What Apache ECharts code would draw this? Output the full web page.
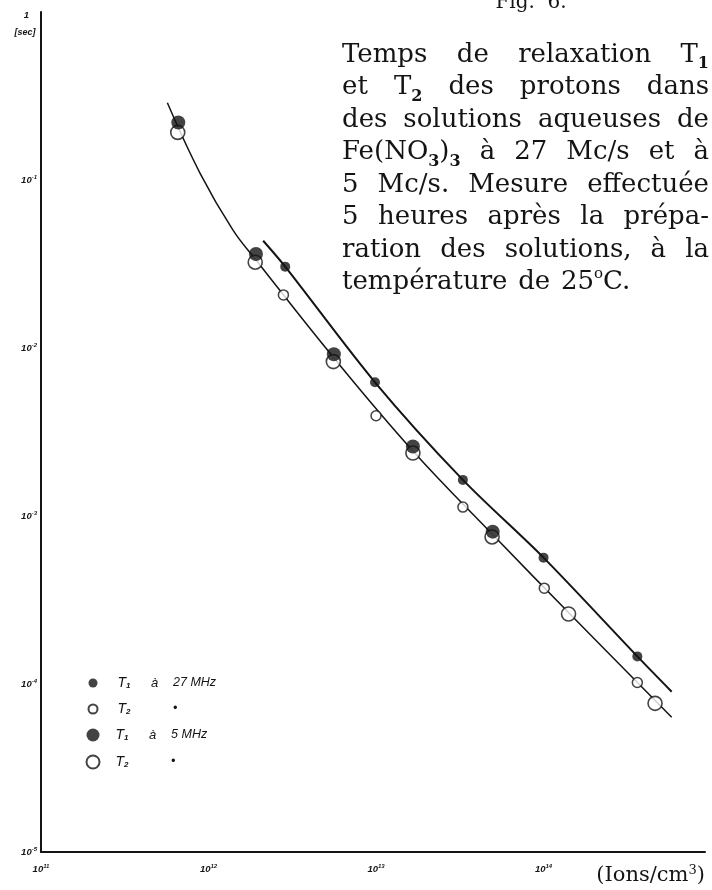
<!DOCTYPE html>
<html><head><meta charset="utf-8">
<script src="https://cdn.jsdelivr.net/npm/echarts/dist/echarts.min.js"></script>
<style>html,body{margin:0;padding:0;background:#fff}#c{width:712px;height:890px}</style>
</head><body><div id="c"></div>
<script>
// ---- data ----
const t1_27_x = [2.87e12, 9.86e12, 3.3e13, 1.0e14, 3.63e14];
const t1_27_y = [0.0305, 0.00625, 0.00164, 5.65e-4, 1.46e-4];
const t2_27_x = [2.8e12, 1.0e13, 3.3e13, 1.01e14, 3.63e14];
const t2_27_y = [0.0207, 0.00395, 0.00113, 3.72e-4, 1.02e-4];
const t1_5_x = [6.6e11, 1.92e12, 5.6e12, 1.66e13, 4.97e13];
const t1_5_y = [0.220, 0.0363, 0.00918, 0.00259, 8.07e-4];
const t2_5_x = [6.55e11, 1.9e12, 5.56e12, 1.66e13, 4.93e13, 1.41e14, 4.63e14];
const t2_5_y = [0.192, 0.0324, 0.0083, 0.00237, 7.5e-4, 2.61e-4, 7.67e-5];
const upperCurve_x = [2.12e12, 2.87e12, 9.86e12, 3.3e13, 1.0e14, 3.63e14, 5.82e14];
const upperCurve_y = [0.0435, 0.0305, 0.00625, 0.00164, 5.65e-4, 1.46e-4, 9.0e-5];
const lowerCurve_x = [5.68e11, 8.89e11, 1.40e12, 1.92e12, 5.61e12, 1.66e13, 5.0e13, 1.40e14, 5.82e14];
const lowerCurve_y = [0.288, 0.110, 0.0503, 0.0334, 0.00871, 0.00244, 7.71e-4, 2.68e-4, 6.34e-5];
const xTickValues = [1e11, 1e12, 1e13, 1e14];
const xTickExps = ['11', '12', '13', '14'];
const yTickValues = [1e-5, 1e-4, 1e-3, 1e-2, 1e-1, 1];
const yTickExps = ['-5', '-4', '-3', '-2', '-1', ''];
const seriesNames = ['T1 à 27 MHz', 'T2 à 27 MHz', 'T1 à 5 MHz', 'T2 à 5 MHz'];
const paragraph = [
  'Temps de relaxation T_1',
  'et T_2 des protons dans',
  'des solutions aqueuses de',
  'Fe(NO_3)_3 à 27 Mc/s et à',
  '5 Mc/s. Mesure effectuée',
  '5 heures après la prépa-',
  'ration des solutions, à la',
  'température de 25^oC.'
];

const zip = (xs, ys) => xs.map((x, i) => [x, ys[i]]);

const chart = echarts.init(document.getElementById('c'));

// ---- justified caption text ----
const mctx = document.createElement('canvas').getContext('2d');
const FONTS = {
  n: {font: '26px "DejaVu Serif"', dy: 0},
  sub: {font: 'bold 16px "DejaVu Serif"', dy: 9},
  sup: {font: '15px "DejaVu Serif"', dy: -8}
};
function measure(t, f) { mctx.font = f; return mctx.measureText(t).width; }
function parseWord(w) {
  const segs = []; let buf = '';
  for (let i = 0; i < w.length; i++) {
    const c = w[i];
    if (c === '_' || c === '^') {
      if (buf) { segs.push({t: buf, k: 'n'}); buf = ''; }
      segs.push({t: w[i + 1], k: c === '_' ? 'sub' : 'sup'}); i++;
    } else buf += c;
  }
  if (buf) segs.push({t: buf, k: 'n'});
  return segs;
}
const TX_L = 342, TX_R = 709, TX_Y0 = 55, TX_DY = 32.5;
const graphics = [];
paragraph.forEach((line, li) => {
  const words = line.split(' ').map(parseWord);
  const widths = words.map(ss => ss.reduce((a, s) => a + measure(s.t, FONTS[s.k].font), 0));
  const total = widths.reduce((a, b) => a + b, 0);
  const last = li === paragraph.length - 1;
  const gap = last ? measure(' ', FONTS.n.font) * 1.3 : (TX_R - TX_L - total) / (words.length - 1);
  let x = TX_L;
  const y = TX_Y0 + li * TX_DY;
  words.forEach((ss, wi) => {
    let sx = x;
    ss.forEach(s => {
      graphics.push({type: 'text', x: sx, y: y + FONTS[s.k].dy, silent: true,
        style: {text: s.t, font: FONTS[s.k].font, fill: '#141414', align: 'left', verticalAlign: 'middle',
                textAlign: 'left', textVerticalAlign: 'middle'}});
      sx += measure(s.t, FONTS[s.k].font);
    });
    x += widths[wi] + gap;
  });
});
graphics.push({type: 'text', x: 531, y: 3, silent: true,
  style: {text: 'Fig.  6.', font: '20px "DejaVu Serif"', fill: '#141414', align: 'center', verticalAlign: 'middle',
          textAlign: 'center', textVerticalAlign: 'middle'}});
graphics.push({type: 'text', x: 25, y: 33, silent: true,
  style: {text: '[sec]', font: 'italic bold 9px "Liberation Sans"', fill: '#141414', align: 'center', verticalAlign: 'middle',
          textAlign: 'center', textVerticalAlign: 'middle'}});
graphics.push({type: 'text', x: 705, y: 876, silent: true,
  style: {text: '{a|(Ions/cm}{s|3}{a|)}', fill: '#141414', align: 'right', verticalAlign: 'middle',
          textAlign: 'right', textVerticalAlign: 'middle',
          rich: {a: {font: '21px "DejaVu Serif"', fill: '#141414', lineHeight: 24},
                 s: {font: '13px "DejaVu Serif"', fill: '#141414', verticalAlign: 'top', lineHeight: 24, padding: [0, 0, 7, 0]}}}});

// ---- legend text ----
const lf = {fontFamily: 'Liberation Sans', fontStyle: 'italic', color: '#141414', lineHeight: 15};
const legendRich = {
  sp1: {width: 15, lineHeight: 15}, sp2: {width: 11, lineHeight: 15},
  t: Object.assign({}, lf, {fontSize: 14}),
  s: Object.assign({}, lf, {fontSize: 8, fontWeight: 'bold', padding: [6, 0, 0, 0], width: 25}),
  a: Object.assign({}, lf, {fontSize: 13, width: 22}),
  m: Object.assign({}, lf, {fontSize: 12.5})
};
function legendFmt(sp) {
  return function (name) {
    const sub = name.charAt(1);
    const rest = name.slice(5);
    if (name.startsWith('T1')) return `{${sp}|}{t|T}{s|${sub}}{a|à}{m|${rest}}`;
    return `{${sp}|}{t|T}{s|${sub}}{a|}{m|•}`;
  };
}

const axisLabelBase = {fontFamily: 'Liberation Sans', fontStyle: 'italic', fontWeight: 'bold', fontSize: 9.5, color: '#141414'};

chart.setOption({
  animation: false,
  backgroundColor: '#fff',
  grid: {left: 41, right: 7, top: 12, bottom: 38, containLabel: false},
  xAxis: {
    type: 'log', logBase: 10, min: 1e11, max: 9.2e14,
    axisLine: {show: true, onZero: false, lineStyle: {color: '#141414', width: 2}},
    axisTick: {show: false}, splitLine: {show: false}, minorTick: {show: false},
    axisLabel: {
      margin: 11, showMaxLabel: false,
      formatter: v => { const i = xTickValues.findIndex(t => Math.abs(Math.log10(t) - Math.log10(v)) < 1e-6);
                        return i < 0 ? '' : `{b|10}{e|${xTickExps[i]}}`; },
      rich: {b: Object.assign({}, axisLabelBase, {lineHeight: 12}),
             e: Object.assign({}, axisLabelBase, {fontSize: 6, verticalAlign: 'top', lineHeight: 12, padding: [0, 0, 5, 0]})}
    }
  },
  yAxis: {
    type: 'log', logBase: 10, min: 1e-5, max: 1,
    axisLine: {show: true, onZero: false, lineStyle: {color: '#141414', width: 2}},
    axisTick: {show: false}, splitLine: {show: false}, minorTick: {show: false},
    axisLabel: {
      margin: 4,
      formatter: v => { const i = yTickValues.findIndex(t => Math.abs(Math.log10(t) - Math.log10(v)) < 1e-6);
                        if (i < 0) return ''; if (yTickExps[i] === '') return '{one|1}';
                        return `{b|10}{e|${yTickExps[i]}}`; },
      rich: {b: Object.assign({}, axisLabelBase, {lineHeight: 12}),
             e: Object.assign({}, axisLabelBase, {fontSize: 6, verticalAlign: 'top', lineHeight: 12, padding: [0, 0, 5, 0]}),
             one: Object.assign({}, axisLabelBase, {padding: [6, 8, 0, 0]})}
    }
  },
  legend: [
    {data: seriesNames.slice(0, 2), orient: 'vertical', left: 87.5, top: 675.5, padding: 0, itemGap: 11,
     itemWidth: 9, itemHeight: 9, icon: 'circle', selectedMode: false, formatter: legendFmt('sp1'),
     textStyle: {rich: legendRich, lineHeight: 15}},
    {data: seriesNames.slice(2, 4), orient: 'vertical', left: 85.5, top: 727.5, padding: 0, itemGap: 12,
     itemWidth: 13, itemHeight: 13, icon: 'circle', selectedMode: false, formatter: legendFmt('sp2'),
     textStyle: {rich: legendRich, lineHeight: 15}}
  ],
  graphic: graphics,
  series: [
    {name: 'upper curve', type: 'line', data: zip(upperCurve_x, upperCurve_y), symbol: 'none', smooth: 0.3,
     lineStyle: {color: '#141414', width: 2}, silent: true, z: 1},
    {name: 'lower curve', type: 'line', data: zip(lowerCurve_x, lowerCurve_y), symbol: 'none', smooth: 0.4,
     lineStyle: {color: '#141414', width: 1.5}, silent: true, z: 1},
    {name: seriesNames[1], type: 'scatter', data: zip(t2_27_x, t2_27_y), symbol: 'circle', symbolSize: 10,
     itemStyle: {color: '#fff', borderColor: '#141414', borderWidth: 1.5}, z: 2},
    {name: seriesNames[3], type: 'scatter', data: zip(t2_5_x, t2_5_y), symbol: 'circle', symbolSize: 14,
     itemStyle: {color: '#fff', borderColor: '#141414', borderWidth: 1.6}, z: 2},
    {name: seriesNames[0], type: 'scatter', data: zip(t1_27_x, t1_27_y), symbol: 'circle', symbolSize: 10,
     itemStyle: {color: '#141414'}, z: 3},
    {name: seriesNames[2], type: 'scatter', data: zip(t1_5_x, t1_5_y), symbol: 'circle', symbolSize: 14,
     itemStyle: {color: '#141414'}, z: 3}
  ]
});
</script>
</body></html>
